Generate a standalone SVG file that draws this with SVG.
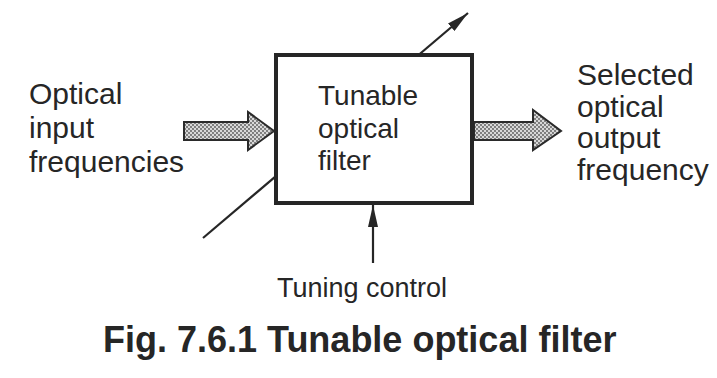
<svg xmlns="http://www.w3.org/2000/svg" width="717" height="378" viewBox="0 0 717 378">
<style>
.lbl{font-family:"Liberation Sans",Arial,sans-serif;font-size:30px;fill:#262626}
.box{fill:#fff;stroke:#262626;stroke-width:4}
.fat{fill:url(#dots);stroke:#2a2a2a;stroke-width:2;stroke-linejoin:miter}
.thin{stroke:#262626;stroke-width:2.2;fill:none}
.cap{font-family:"Liberation Sans",Arial,sans-serif;font-size:36px;font-weight:bold;fill:#262626}
</style>
<defs>
<pattern id="dots" width="4" height="4" patternUnits="userSpaceOnUse">
<rect width="4" height="4" fill="#d8d8d8"/>
<circle cx="1" cy="1" r="0.9" fill="#555"/>
<circle cx="3" cy="3" r="0.9" fill="#555"/>
</pattern>
<marker id="ah" viewBox="0 0 22 10" refX="22" refY="5" markerWidth="22" markerHeight="10" markerUnits="userSpaceOnUse" orient="auto">
<path d="M0,0 L22,5 L0,10 z" fill="#262626"/>
</marker>
</defs>
<rect width="717" height="378" fill="#fff"/>
<g id="connectors">
<line class="thin" x1="203" y1="238" x2="468" y2="13" marker-end="url(#ah)"/>
<line class="thin" x1="373" y1="263" x2="373" y2="205" marker-end="url(#ah)"/>
<path class="fat" d="M184,122 H248 V112 L274,131 L248,150 V140 H184 Z"/>
<path class="fat" d="M474,122 H533 V110 L561,131 L533,150 V140 H474 Z"/>
</g>
<g id="filter">
<rect class="box" x="276" y="55" width="196" height="148"/>
<text class="lbl" x="318" y="105" style="font-size:28px">Tunable</text>
<text class="lbl" x="318" y="138" style="font-size:28px">optical</text>
<text class="lbl" x="318" y="170" style="font-size:28px">filter</text>
</g>
<g id="input">
<text class="lbl" x="29" y="104">Optical</text>
<text class="lbl" x="29" y="138">input</text>
<text class="lbl" x="29" y="172">frequencies</text>
</g>
<g id="output">
<text class="lbl" x="577" y="85">Selected</text>
<text class="lbl" x="577" y="117">optical</text>
<text class="lbl" x="577" y="148">output</text>
<text class="lbl" x="577" y="180">frequency</text>
</g>
<g id="tuning">
<text class="lbl" x="277" y="297" style="font-size:27px">Tuning control</text>
</g>
<text class="cap" x="103" y="352">Fig. 7.6.1 Tunable optical filter</text>
</svg>
